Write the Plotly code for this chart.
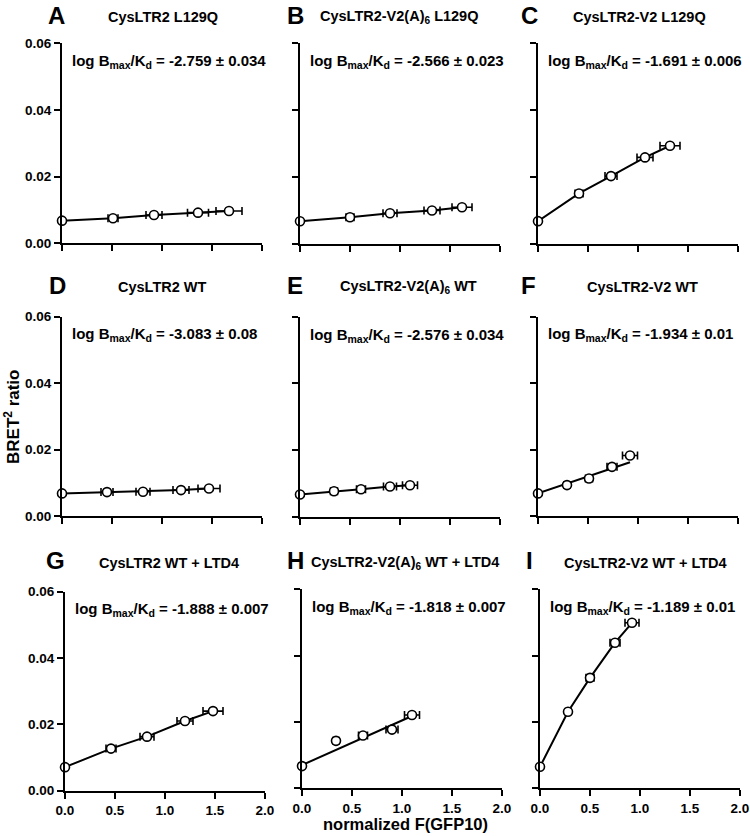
import plotly.graph_objects as go

# ---------------- data ----------------
panel_letters = ["A", "B", "C", "D", "E", "F", "G", "H", "I"]
panel_titles = [
    "CysLTR2 L129Q", "CysLTR2-V2(A)<sub>6</sub> L129Q", "CysLTR2-V2 L129Q",
    "CysLTR2 WT", "CysLTR2-V2(A)<sub>6</sub> WT", "CysLTR2-V2 WT",
    "CysLTR2 WT + LTD4", "CysLTR2-V2(A)<sub>6</sub> WT + LTD4", "CysLTR2-V2 WT + LTD4",
]
log_values = ["-2.759 ± 0.034", "-2.566 ± 0.023", "-1.691 ± 0.006",
              "-3.083 ± 0.08", "-2.576 ± 0.034", "-1.934 ± 0.01",
              "-1.888 ± 0.007", "-1.818 ± 0.007", "-1.189 ± 0.01"]

x_A = [0, 0.51, 0.92, 1.36, 1.67]
y_A = [0.0068, 0.0075, 0.0085, 0.0092, 0.0097]
ex_A = [0, 0.05, 0.08, 0.105, 0.13]

x_B = [0, 0.50, 0.90, 1.32, 1.62]
y_B = [0.0068, 0.0080, 0.0092, 0.0100, 0.0110]
ex_B = [0, 0.04, 0.07, 0.08, 0.10]

x_C = [0, 0.41, 0.73, 1.07, 1.32]
y_C = [0.0067, 0.0150, 0.0202, 0.0258, 0.0293]
ex_C = [0, 0.04, 0.06, 0.08, 0.10]

x_D = [0, 0.45, 0.81, 1.19, 1.47]
y_D = [0.0068, 0.0072, 0.0073, 0.0078, 0.0083]
ex_D = [0, 0.06, 0.07, 0.08, 0.11]

x_E = [0, 0.34, 0.61, 0.90, 1.10]
y_E = [0.0066, 0.0076, 0.0082, 0.0090, 0.0094]
ex_E = [0, 0.035, 0.045, 0.065, 0.075]

x_F = [0, 0.29, 0.51, 0.74, 0.92]
y_F = [0.0068, 0.0093, 0.0113, 0.0148, 0.0182]
ex_F = [0, 0.03, 0.035, 0.05, 0.075]

x_G = [0, 0.46, 0.82, 1.20, 1.48]
y_G = [0.0071, 0.0127, 0.0163, 0.0210, 0.0240]
ex_G = [0, 0.05, 0.07, 0.08, 0.10]

x_H = [0, 0.34, 0.61, 0.90, 1.10]
y_H = [0.0067, 0.0143, 0.0159, 0.0177, 0.0221]
ex_H = [0, 0.03, 0.045, 0.06, 0.075]

x_I = [0, 0.28, 0.50, 0.75, 0.92]
y_I = [0.0065, 0.0231, 0.0333, 0.0439, 0.0499]
ex_I = [0, 0.025, 0.04, 0.05, 0.07]

# fitted curves
fitx_A, fity_A = x_A, y_A
fitx_B, fity_B = x_B, y_B
fitx_C, fity_C = x_C, y_C
fitx_D, fity_D = x_D, y_D
fitx_E, fity_E = x_E, y_E
fitx_F, fity_F = [0, 0.92], [0.0068, 0.0162]
fitx_G, fity_G = x_G, y_G
fitx_H, fity_H = [0, 1.10], [0.0070, 0.0218]
fitx_I, fity_I = x_I, y_I

xs = [x_A, x_B, x_C, x_D, x_E, x_F, x_G, x_H, x_I]
ys = [y_A, y_B, y_C, y_D, y_E, y_F, y_G, y_H, y_I]
exs = [ex_A, ex_B, ex_C, ex_D, ex_E, ex_F, ex_G, ex_H, ex_I]
fitxs = [fitx_A, fitx_B, fitx_C, fitx_D, fitx_E, fitx_F, fitx_G, fitx_H, fitx_I]
fitys = [fity_A, fity_B, fity_C, fity_D, fity_E, fity_F, fity_G, fity_H, fity_I]

x_ticks = [0, 0.5, 1.0, 1.5, 2.0]
x_ticklabels = ["0.0", "0.5", "1.0", "1.5", "2.0"]
y_ticks = [0, 0.02, 0.04, 0.06]
y_ticklabels = ["0.00", "0.02", "0.04", "0.06"]

# ---------------- layout geometry (pixels) ----------------
W, H = 750, 836
FONT = "Liberation Sans, Arial, sans-serif"
# panel boxes: left x, top y, bottom y (width 200 px each)
boxes = [
    (62, 43.3, 243.3), (300, 43.3, 244), (538, 43.3, 243.5),
    (62, 316.7, 516), (300, 316.7, 516.5), (538, 316.7, 516),
    (65, 591.7, 790.7), (302, 589.3, 788.3), (540, 589.3, 788.3),
]
letter_pos = [(56, 16), (295, 16), (529, 16),
              (57, 286), (295, 286), (528, 286),
              (55, 560), (295, 560), (529, 560)]
title_pos = [(163, 17), (399, 17), (639, 17),
             (162, 287), (408, 287), (642, 287),
             (169, 563), (405, 563), (645, 563)]

def fx(px):
    return px / W

def fy(py):
    return 1 - py / H

fig = go.Figure()
layout = dict(width=W, height=H, margin=dict(l=0, r=0, t=0, b=0, pad=0, autoexpand=False),
              paper_bgcolor="white", plot_bgcolor="white", showlegend=False,
              font=dict(family=FONT, color="black"))
annotations = []

for i in range(9):
    n = "" if i == 0 else str(i + 1)
    row, col = divmod(i, 3)
    left, top, bottom = boxes[i]
    xa = dict(domain=[fx(left), fx(left + 200)], range=[0, 2], anchor="y" + n,
              automargin=False,
              showline=True, linecolor="black", linewidth=2, mirror=False,
              ticks="outside", ticklen=6, tickwidth=2, tickcolor="black",
              tickvals=x_ticks, ticktext=x_ticklabels,
              showticklabels=(row == 2), showgrid=False, zeroline=False,
              tickfont=dict(family=FONT, size=13.5, weight="bold", color="black"))
    ya = dict(domain=[fy(bottom), fy(top)], range=[0, 0.06], anchor="x" + n,
              automargin=False,
              showline=True, linecolor="black", linewidth=2, mirror=False,
              ticks="outside", ticklen=6, tickwidth=2, tickcolor="black",
              tickvals=y_ticks, ticktext=y_ticklabels,
              showticklabels=(col == 0), showgrid=False, zeroline=False,
              tickfont=dict(family=FONT, size=13.5, weight="bold", color="black"))
    layout["xaxis" + n] = xa
    layout["yaxis" + n] = ya

    fig.add_trace(go.Scatter(x=fitxs[i], y=fitys[i], mode="lines",
                             line=dict(color="black", width=2),
                             xaxis="x" + n, yaxis="y" + n, cliponaxis=False,
                             hoverinfo="skip"))
    fig.add_trace(go.Scatter(x=xs[i], y=ys[i], mode="markers",
                             marker=dict(symbol="circle", size=9, color="white",
                                         line=dict(color="black", width=1.6)),
                             error_x=dict(type="data", array=exs[i], visible=True,
                                          color="black", thickness=1.6, width=4),
                             xaxis="x" + n, yaxis="y" + n, cliponaxis=False))

    lx, ly = letter_pos[i]
    annotations.append(dict(text="<b>" + panel_letters[i] + "</b>", x=fx(lx), y=fy(ly),
                            xref="paper", yref="paper", xanchor="center", yanchor="middle",
                            showarrow=False, font=dict(family=FONT, size=24, color="black")))
    tx, ty = title_pos[i]
    annotations.append(dict(text="<b>" + panel_titles[i] + "</b>", x=fx(tx), y=fy(ty),
                            xref="paper", yref="paper", xanchor="center", yanchor="middle",
                            showarrow=False, font=dict(family=FONT, size=14.5, color="black")))
    annotations.append(dict(text="<b>log B<sub>max</sub>/K<sub>d</sub> = " + log_values[i] + "</b>",
                            x=0.08, y=0.0545, xref="x" + n, yref="y" + n,
                            xanchor="left", yanchor="middle", showarrow=False,
                            font=dict(family=FONT, size=15, color="black")))

annotations.append(dict(text="<b>BRET<sup>2</sup> ratio</b>", x=fx(12), y=fy(417),
                        xref="paper", yref="paper", xanchor="center", yanchor="middle",
                        textangle=-90, showarrow=False,
                        font=dict(family=FONT, size=17, color="black")))
annotations.append(dict(text="<b>normalized F(GFP10)</b>", x=fx(405), y=fy(824),
                        xref="paper", yref="paper", xanchor="center", yanchor="middle",
                        showarrow=False, font=dict(family=FONT, size=16.5, color="black")))

layout["annotations"] = annotations
fig.update_layout(**layout)
fig.write_html("out.html",
               config={"displayModeBar": False},
               post_script="document.body.style.margin='0px';"
                           "document.body.style.padding='0px';"
                           "document.body.style.overflow='hidden';")
